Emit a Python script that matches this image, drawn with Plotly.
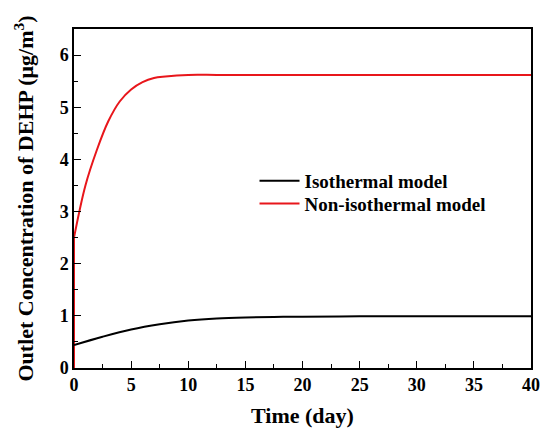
import plotly.graph_objects as go

# Data
t_iso = [0, 2.5, 5, 7.5, 10, 12.5, 15, 17.5, 20, 25, 30, 35, 40]
c_iso = [0.44, 0.6, 0.74, 0.84, 0.91, 0.95, 0.97, 0.98, 0.985, 0.99, 0.99, 0.99, 0.99]

t_non = [0, 1, 2, 3, 4, 5, 6, 7, 8, 9, 10, 12.5, 15, 20, 25, 30, 35, 40]
c_non = [2.5, 3.5, 4.18, 4.73, 5.11, 5.34, 5.48, 5.56, 5.59, 5.61, 5.62, 5.62, 5.62, 5.62, 5.62, 5.62, 5.62, 5.62]

# initial step at t = 0 (concentration starts from zero)
t_start = [0, 0]
c_iso_start = [0, 0.44]
c_non_start = [0, 2.5]

font_family = "Liberation Serif"
black = "black"
red = "#e8161b"

fig = go.Figure()
fig.add_trace(go.Scatter(x=t_start, y=c_iso_start, mode="lines", showlegend=False, hoverinfo="skip",
                         line=dict(color=black, width=2)))
fig.add_trace(go.Scatter(x=t_start, y=c_non_start, mode="lines", showlegend=False, hoverinfo="skip",
                         line=dict(color=red, width=2)))
fig.add_trace(go.Scatter(x=t_iso, y=c_iso, mode="lines", name="Isothermal model", legend="legend",
                         line=dict(color=black, width=2, shape="spline", smoothing=1.0)))
fig.add_trace(go.Scatter(x=t_non, y=c_non, mode="lines", name="Non-isothermal model", legend="legend2",
                         line=dict(color=red, width=2, shape="spline", smoothing=1.0)))

axis_common = dict(showline=True, linecolor="black", linewidth=1.5, mirror=True,
                   ticks="inside", ticklen=7, tickwidth=1.2, tickcolor="black",
                   showgrid=False, zeroline=False, automargin=False,
                   tickfont=dict(family=font_family, size=18, color="black", weight="bold"))

fig.update_xaxes(range=[0, 40], dtick=5, tick0=0,
                 minor=dict(ticks="inside", ticklen=4, dtick=2.5, tickcolor="black", tickwidth=1.2),
                 title=dict(text="Time (day)", font=dict(family=font_family, size=22, color="black", weight="bold"),
                            standoff=14),
                 **axis_common)
fig.update_yaxes(range=[0, 6.5], dtick=1, tick0=0,
                 minor=dict(ticks="inside", ticklen=4, dtick=0.5, tickcolor="black", tickwidth=1.2),
                 title=dict(text="Outlet Concentration of DEHP (μg/m<sup>3</sup>)",
                            font=dict(family=font_family, size=22, color="black", weight="bold"),
                            standoff=20),
                 **axis_common)

leg_common = dict(xanchor="left", yanchor="middle",
                  font=dict(family=font_family, size=19, color="black", weight="bold"),
                  bgcolor="rgba(0,0,0,0)", itemwidth=40)

fig.update_layout(
    width=542, height=428,
    margin=dict(l=74, r=11, t=29, b=60),
    paper_bgcolor="white", plot_bgcolor="white",
    legend=dict(x=0.395, y=0.552, **leg_common),
    legend2=dict(x=0.395, y=0.485, **leg_common),
    showlegend=True,
)

fig.write_html("out.html", config={"displayModeBar": False},
               post_script="document.body.style.margin='0';document.body.style.overflow='hidden';")
